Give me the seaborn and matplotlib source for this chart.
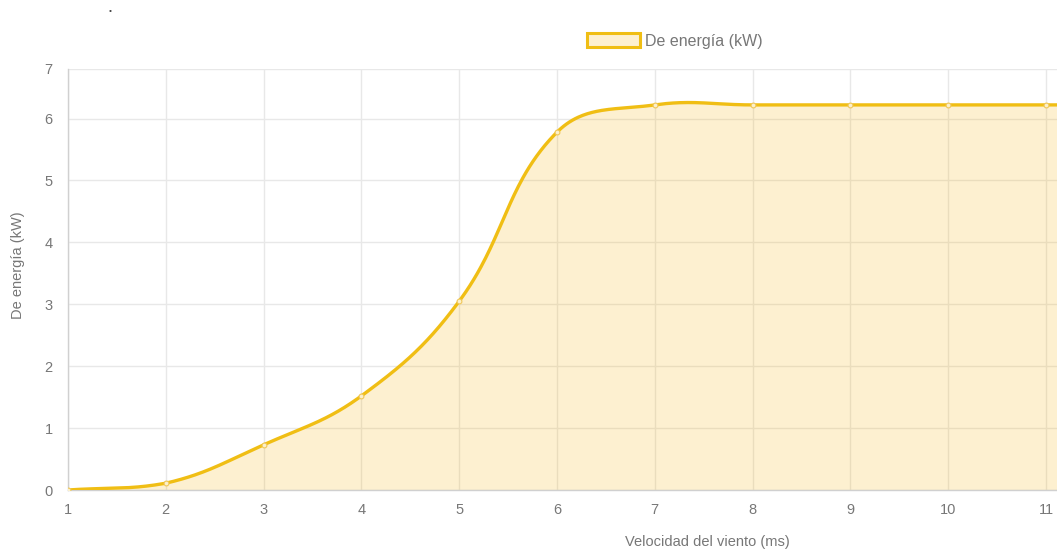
import numpy as np
import matplotlib
matplotlib.use("Agg")
import matplotlib.pyplot as plt
import seaborn as sns
from matplotlib.patches import Patch

# Power curve: wind speed (m/s) vs power (kW)
wind_speed = [1, 2, 3, 4, 5, 6, 7, 8, 9, 10, 11, 12]
power_kw = [0.0, 0.11, 0.73, 1.52, 3.05, 5.78, 6.22, 6.22, 6.22, 6.22, 6.22, 6.22]
x_ticks = [1, 2, 3, 4, 5, 6, 7, 8, 9, 10, 11]
y_ticks = [0, 1, 2, 3, 4, 5, 6, 6.8]
y_tick_labels = ["0", "1", "2", "3", "4", "5", "6", "7"]

series_label = "De energía (kW)"
x_title = "Velocidad del viento (ms)"
y_title = "De energía (kW)"

LINE = "#F0BE14"
FILL = (245 / 255, 180 / 255, 20 / 255, 0.2)
GRID = "#E8E8E8"
AXIS = "#D0D0D0"
TEXT = "#777777"
FS = 10.5

W, H, DPI = 1057, 552, 100
sns.set_theme(style="white")
plt.rcParams["font.family"] = ["Liberation Sans", "DejaVu Sans"]

fig = plt.figure(figsize=(W / DPI, H / DPI), dpi=DPI)
left_px, right_px, top_px, bottom_px = 68, 1057, 69, 490
ax = fig.add_axes([left_px / W, 1 - bottom_px / H,
                   (right_px - left_px) / W, (bottom_px - top_px) / H])

x_min, x_max = 1, 1 + 10 * (right_px - left_px) / (1046 - left_px)
y_min, y_max = 0, 6.8
ax.set_xlim(x_min, x_max)
ax.set_ylim(y_min, y_max)

# pixel scale used for the smoothing (tension in screen space)
sx = (right_px - left_px) / (x_max - x_min)
sy = (bottom_px - top_px) / (y_max - y_min)


def smooth_curve(xs, ys, tension=0.4, n=60):
    P = np.column_stack([np.asarray(xs, float) * sx, np.asarray(ys, float) * sy])
    k = len(P)
    cp_prev = np.zeros_like(P)
    cp_next = np.zeros_like(P)
    for i in range(k):
        p0 = P[i - 1] if i > 0 else P[i]
        p1 = P[i]
        p2 = P[i + 1] if i < k - 1 else P[i]
        d01 = np.hypot(*(p1 - p0))
        d12 = np.hypot(*(p2 - p1))
        tot = d01 + d12
        s01 = d01 / tot if tot else 0
        s12 = d12 / tot if tot else 0
        cp_prev[i] = p1 - tension * s01 * (p2 - p0)
        cp_next[i] = p1 + tension * s12 * (p2 - p0)
    # keep control points inside the plotting area
    for cp in (cp_prev, cp_next):
        cp[:, 1] = np.clip(cp[:, 1], y_min * sy, y_max * sy)
    t = np.linspace(0, 1, n)[:, None]
    pts = []
    for i in range(k - 1):
        a, b, c, d = P[i], cp_next[i], cp_prev[i + 1], P[i + 1]
        seg = ((1 - t) ** 3) * a + 3 * ((1 - t) ** 2) * t * b + 3 * (1 - t) * t ** 2 * c + t ** 3 * d
        pts.append(seg if i == 0 else seg[1:])
    pts = np.vstack(pts)
    return pts[:, 0] / sx, pts[:, 1] / sy


cx, cy = smooth_curve(wind_speed, power_kw)

# grid
ax.set_xticks(x_ticks)
ax.set_yticks(y_ticks)
ax.set_yticklabels(y_tick_labels)
ax.grid(True, color=GRID, linewidth=1)
ax.set_axisbelow(True)

ax.fill_between(cx, 0, cy, color=FILL, linewidth=0, zorder=2)
sns.lineplot(x=cx, y=cy, sort=False, estimator=None, color=LINE,
             linewidth=2.4, ax=ax, zorder=3)
sns.scatterplot(x=wind_speed, y=power_kw, s=12, color=(0.99, 0.94, 0.80),
                edgecolor=(0.94, 0.78, 0.35), linewidth=0.8, ax=ax, zorder=4)

for side in ("top", "right"):
    ax.spines[side].set_visible(False)
ax.spines["left"].set_color(AXIS)
ax.spines["bottom"].set_color(AXIS)
ax.spines["left"].set_linewidth(1)
ax.spines["bottom"].set_linewidth(1)

ax.tick_params(axis="both", which="major", length=7, width=1, color=GRID,
               labelcolor=TEXT, labelsize=FS, pad=2)
ax.tick_params(axis="y", pad=4)

ax.set_xlabel(x_title, color=TEXT, fontsize=FS)
ax.set_ylabel(y_title, color=TEXT, fontsize=FS)
ax.xaxis.set_label_coords((707 - left_px) / (right_px - left_px), -(542 - bottom_px) / (bottom_px - top_px))
ax.yaxis.set_label_coords(-(left_px - 18) / (right_px - left_px), (bottom_px - 265) / (bottom_px - top_px))
ax.xaxis.label.set_va("center")
ax.yaxis.label.set_va("center")

handle = Patch(facecolor=FILL, edgecolor=LINE, linewidth=2.2)
fig.legend([handle], [series_label], loc="center", bbox_to_anchor=(675 / W, 1 - 41 / H),
           frameon=False, fontsize=11.5, labelcolor=TEXT, handlelength=3.3,
           handleheight=0.9, handletextpad=0.3)

fig.text(110 / W, 1 - 12 / H, "•", fontsize=6, color="#444444", ha="center", va="center")

fig.savefig("out.png", dpi=DPI)
